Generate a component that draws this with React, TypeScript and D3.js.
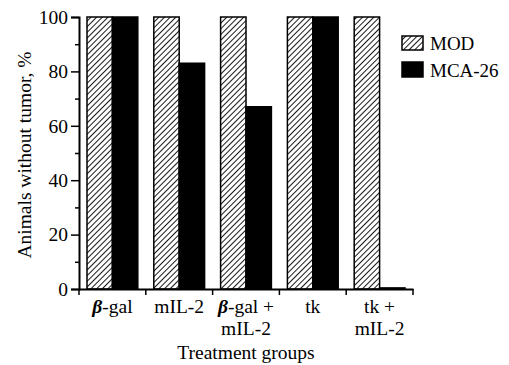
import React, { useRef, useEffect } from "react";
import * as d3 from "d3";

const groups = ["β-gal", "mIL-2", "β-gal + mIL-2", "tk", "tk + mIL-2"];
const groupLines = [["β-gal"], ["mIL-2"], ["β-gal +", "mIL-2"], ["tk"], ["tk +", "mIL-2"]];
const series = ["MOD", "MCA-26"];
const modValues = [100, 100, 100, 100, 100];
const mcaValues = [100, 83, 67, 100, 0.4];
const yTicks = [0, 20, 40, 60, 80, 100];
const yMinorTicks = [10, 30, 50, 70, 90];

const App = () => {
  const svgRef = useRef<SVGSVGElement>(null);

  useEffect(() => {
    const svg = d3.select(svgRef.current);
    svg.selectAll("*").remove();
    const width = 509;
    const height = 365;
    const margin = { top: 17, right: 96, bottom: 76, left: 79 };
    const font = "'Liberation Serif', 'Times New Roman', serif";
    const fs = 19.5;

    // hatch pattern
    const hs = 4;
    const defs = svg.append("defs");
    const pat = defs
      .append("pattern")
      .attr("id", "hatch")
      .attr("patternUnits", "userSpaceOnUse")
      .attr("width", hs)
      .attr("height", hs)
      .attr("patternTransform", "rotate(45)");
    pat.append("rect").attr("width", hs).attr("height", hs).attr("fill", "white");
    pat.append("line").attr("x1", 0).attr("y1", 0).attr("x2", 0).attr("y2", hs)
      .attr("stroke", "black").attr("stroke-width", 1.8);

    const x = d3.scaleBand().domain(groups).range([margin.left, width - margin.right]).padding(0);
    const inner = d3.scaleBand().domain(series).range([8, x.bandwidth() - 8]).padding(0);
    const y = d3.scaleLinear().domain([0, 100]).range([height - margin.bottom, margin.top]);

    const data = groups.map((g, i) => ({ g, values: [modValues[i], mcaValues[i]] }));

    const bars = svg.append("g");
    data.forEach((d) => {
      d.values.forEach((v, j) => {
        bars.append("rect")
          .attr("x", x(d.g)! + inner(series[j])!)
          .attr("y", y(v))
          .attr("width", inner.bandwidth())
          .attr("height", y(0) - y(v))
          .attr("fill", j === 0 ? "url(#hatch)" : "black")
          .attr("stroke", "black")
          .attr("stroke-width", 1.5);
      });
    });

    // y axis
    const yAxis = svg.append("g").attr("transform", `translate(${margin.left},0)`)
      .call(d3.axisLeft(y).tickValues(yTicks).tickSize(8).tickPadding(3));
    yAxis.select(".domain").attr("stroke-width", 2);
    yAxis.selectAll(".tick line").attr("stroke-width", 1.5);
    yAxis.selectAll("text").attr("font-family", font).attr("font-size", fs).attr("fill", "black");
    svg.append("g").attr("transform", `translate(${margin.left},0)`)
      .call(d3.axisLeft(y).tickValues(yMinorTicks).tickSize(4).tickFormat(() => ""))
      .call((g) => g.select(".domain").remove())
      .selectAll(".tick line").attr("stroke-width", 1.5);

    // x axis
    const xAxis = svg.append("g").attr("transform", `translate(0,${y(0)})`)
      .call(d3.axisBottom(x).tickSize(0).tickFormat(() => ""));
    xAxis.select(".domain").attr("stroke-width", 2);
    const bounds = [...groups.map((g) => x(g)!), x(groups[groups.length - 1])! + x.bandwidth()];
    svg.append("g").selectAll("line").data(bounds).join("line")
      .attr("x1", (d) => d).attr("x2", (d) => d)
      .attr("y1", y(0)).attr("y2", y(0) + 6)
      .attr("stroke", "black").attr("stroke-width", 1.5);

    const labels = svg.append("g").attr("font-family", font).attr("font-size", fs).attr("text-anchor", "middle");
    groups.forEach((g, i) => {
      groupLines[i].forEach((line, k) => {
        const t = labels.append("text")
          .attr("x", x(g)! + x.bandwidth() / 2)
          .attr("y", 313 + k * 22);
        if (line.startsWith("β")) {
          t.append("tspan").attr("font-style", "italic").attr("font-weight", "bold").text("β");
          t.append("tspan").text(line.slice(1));
        } else {
          t.text(line);
        }
      });
    });

    svg.append("text")
      .attr("x", (margin.left + width - margin.right) / 2)
      .attr("y", 359)
      .attr("text-anchor", "middle")
      .attr("font-family", font).attr("font-size", fs)
      .text("Treatment groups");

    svg.append("text")
      .attr("transform", `translate(31,${(y(0) + y(100)) / 2 + 2}) rotate(-90)`)
      .attr("text-anchor", "middle")
      .attr("font-family", font).attr("font-size", fs)
      .text("Animals without tumor, %");

    // legend
    const legend = svg.append("g").attr("font-family", font).attr("font-size", 19);
    series.forEach((s, i) => {
      legend.append("rect")
        .attr("x", 402).attr("y", 36 + i * 26)
        .attr("width", 21).attr("height", i === 0 ? 14 : 15)
        .attr("fill", i === 0 ? "url(#hatch)" : "black")
        .attr("stroke", "black").attr("stroke-width", 1.5);
      legend.append("text").attr("x", 430).attr("y", 50 + i * 27).text(s);
    });
  }, []);

  return <svg ref={svgRef} width={509} height={365} style={{ position: "absolute", left: 0, top: 0 }} />;
};

export default App;
